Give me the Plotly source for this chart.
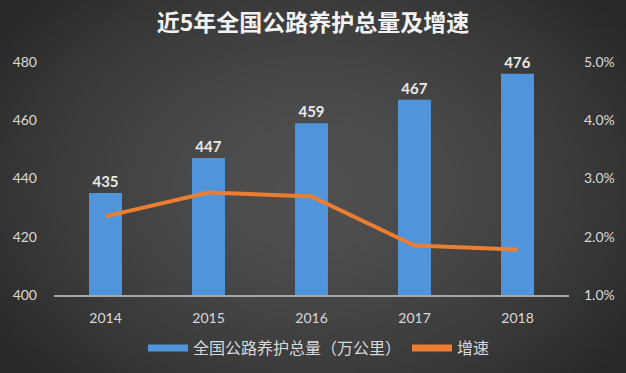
import base64, zlib, struct
import numpy as np
import plotly.graph_objects as go

years = ["2014", "2015", "2016", "2017", "2018"]
volume = [435, 447, 459, 467, 476]
growth = [0.0235, 0.0276, 0.0269, 0.0185, 0.0178]
title_text = "近5年全国公路养护总量及增速"
bar_name = "全国公路养护总量（万公里）"
line_name = "增速"

# radial background gradient as a PNG data URI
W, H = 313, 187
yy, xx = np.mgrid[0:H, 0:W]
d = np.sqrt(((xx - W * 0.5) / (W * 0.62)) ** 2 + ((yy - H * 0.5) / (H * 0.75)) ** 2)
d = np.clip(d, 0, 1)
val = (80 - 40 * d ** 1.6).astype(np.uint8)
raw = b"".join(b"\x00" + val[r].tobytes() for r in range(H))
def chunk(t, data):
    c = struct.pack(">I", len(data)) + t + data
    return c + struct.pack(">I", zlib.crc32(t + data) & 0xffffffff)
png = b"\x89PNG\r\n\x1a\n" + chunk(b"IHDR", struct.pack(">IIBBBBB", W, H, 8, 0, 0, 0, 0)) \
    + chunk(b"IDAT", zlib.compress(raw, 9)) + chunk(b"IEND", b"")
uri = "data:image/png;base64," + base64.b64encode(png).decode()

cjk = "Noto Sans CJK SC"
fig = go.Figure()
fig.add_trace(go.Bar(
    x=years, y=volume, marker=dict(color="#5095dc", line=dict(width=0)),
    text=[str(v) for v in volume], textposition="outside", cliponaxis=False,
    textfont=dict(family="Lato", size=15, color="#e8e8e8", weight="bold"),
    showlegend=False, yaxis="y"))
fig.add_trace(go.Scatter(
    x=years, y=growth, mode="lines", line=dict(color="#ed7d31", width=4),
    showlegend=False, yaxis="y2"))
fig.add_trace(go.Scatter(x=[None], y=[None], mode="lines", name=bar_name,
                         line=dict(color="#5095dc", width=7), legend="legend"))
fig.add_trace(go.Scatter(x=[None], y=[None], mode="lines", name=line_name,
                         line=dict(color="#ed7d31", width=7), legend="legend2"))

leg_common = dict(orientation="h", yref="container", y=1 - 348/373, yanchor="middle",
                  xref="container",
                  font=dict(family=cjk, size=16, color="#d9d9d9"),
                  bgcolor="rgba(0,0,0,0)", itemwidth=40)
fig.update_layout(
    width=626, height=373,
    margin=dict(l=54, r=57, t=62, b=78, autoexpand=False),
    paper_bgcolor="#3c3c3c", plot_bgcolor="rgba(0,0,0,0)",
    images=[dict(source=uri, xref="paper", yref="paper", x=-54/515, y=1+62/233,
                 sizex=626/515, sizey=373/233, sizing="stretch", layer="below",
                 xanchor="left", yanchor="top")],
    title=dict(text="<b>" + title_text + "</b>", x=0.5, xanchor="center",
               y=1 - 23/373, yanchor="middle",
               font=dict(family=cjk, size=23, color="#f2f2f2")),
    bargap=0.68,
    xaxis=dict(showgrid=False, showline=True, linecolor="#a6a6a6", linewidth=1.5,
               ticks="", tickfont=dict(family="Lato", size=14, color="#d9d9d9"),
               ticklabelstandoff=9),
    yaxis=dict(range=[400, 480], dtick=20, showgrid=False, zeroline=False,
               tickfont=dict(family="Lato", size=14, color="#d9d9d9"),
               ticklabelstandoff=16),
    yaxis2=dict(range=[0.01, 0.05], dtick=0.01, tickformat=".1%", overlaying="y",
                side="right", showgrid=False, zeroline=False,
                tickfont=dict(family="Lato", size=14, color="#d9d9d9"),
                ticklabelstandoff=14),
    legend=dict(x=143 / 626, xanchor="left", **leg_common),
    legend2=dict(x=407 / 626, xanchor="left", **leg_common),
)
fig.write_html("out.html", config={"displayModeBar": False},
               post_script="document.body.style.margin='0';document.body.style.overflow='hidden';")
